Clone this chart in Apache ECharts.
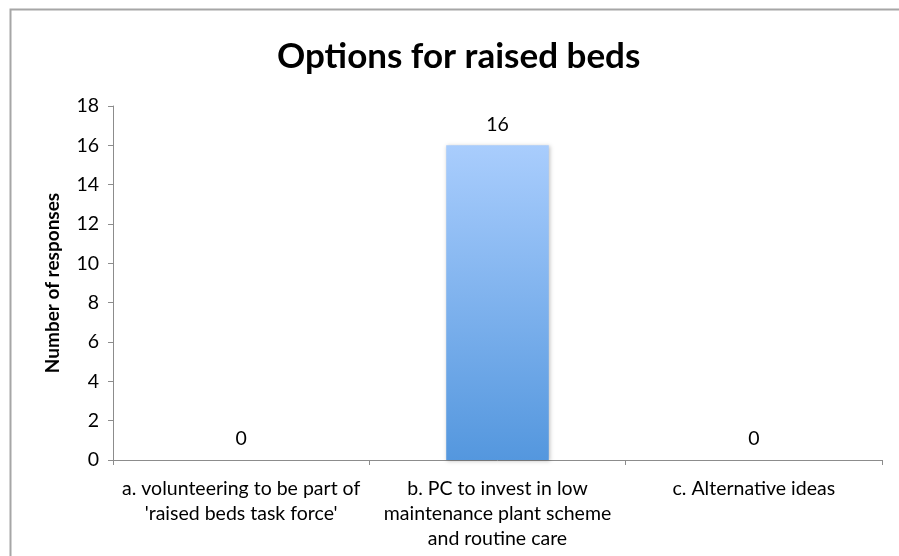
<!DOCTYPE html>
<html>
<head>
<meta charset="utf-8">
<script src="https://cdn.jsdelivr.net/npm/echarts@6/dist/echarts.min.js"></script>
<style>
  html,body{margin:0;padding:0;background:#fff;}
  #main{width:899px;height:556px;}
</style>
</head>
<body>
<div id="main"></div>
<script>
// data
var categories = [
  "a. volunteering to be part of\n'raised beds task force'",
  "b. PC to invest in low\nmaintenance plant scheme\nand routine care",
  "c. Alternative ideas"
];
var responses = [0, 16, 0];
var yTicks = { min: 0, max: 18, interval: 2 };

var chart = echarts.init(document.getElementById('main'), null, { renderer: 'canvas' });
var font = 'Lato, "Open Sans", sans-serif';

var option = {
  animation: false,
  graphic: [{
    type: 'rect',
    shape: { x: 10.5, y: 9.5, width: 1000, height: 1000 },
    style: { fill: 'none', stroke: '#a6a6a6', lineWidth: 2 },
    silent: true
  }],
  title: {
    text: 'Options for raised beds',
    left: 272,
    top: 34,
    textStyle: { fontFamily: font, fontSize: 35, fontWeight: 'bold', color: '#000' }
  },
  grid: { left: 113, right: 17, top: 106, bottom: 96, containLabel: false },
  xAxis: {
    type: 'category',
    data: categories,
    axisLine: { lineStyle: { color: '#8c8c8c', width: 1 } },
    axisTick: { show: true, length: 5, lineStyle: { color: '#8c8c8c' } },
    axisLabel: {
      interval: 0,
      margin: 16,
      color: '#000',
      fontFamily: font,
      fontSize: 19.5,
      lineHeight: 25
    }
  },
  yAxis: {
    type: 'value',
    min: yTicks.min,
    max: yTicks.max,
    interval: yTicks.interval,
    name: 'Number of responses',
    nameLocation: 'middle',
    nameGap: 51,
    nameTextStyle: { fontFamily: font, fontSize: 19, fontWeight: 'bold', color: '#000' },
    axisLine: { show: true, lineStyle: { color: '#8c8c8c', width: 1 } },
    axisTick: { show: true, length: 5, lineStyle: { color: '#8c8c8c' } },
    splitLine: { show: false },
    axisLabel: { margin: 14, color: '#000', fontFamily: font, fontSize: 19.5 }
  },
  series: [{
    type: 'bar',
    data: responses,
    barWidth: '40%',
    itemStyle: {
      color: new echarts.graphic.LinearGradient(0, 0, 0, 1, [
        { offset: 0, color: '#a9cdfd' },
        { offset: 1, color: '#5497de' }
      ]),
      shadowColor: 'rgba(0,0,0,0.25)',
      shadowBlur: 4,
      shadowOffsetX: 1,
      shadowOffsetY: 1
    },
    label: {
      show: true,
      position: 'top',
      distance: 11,
      color: '#000',
      fontFamily: font,
      fontSize: 19.5
    }
  }]
};

chart.setOption(option);
</script>
</body>
</html>
